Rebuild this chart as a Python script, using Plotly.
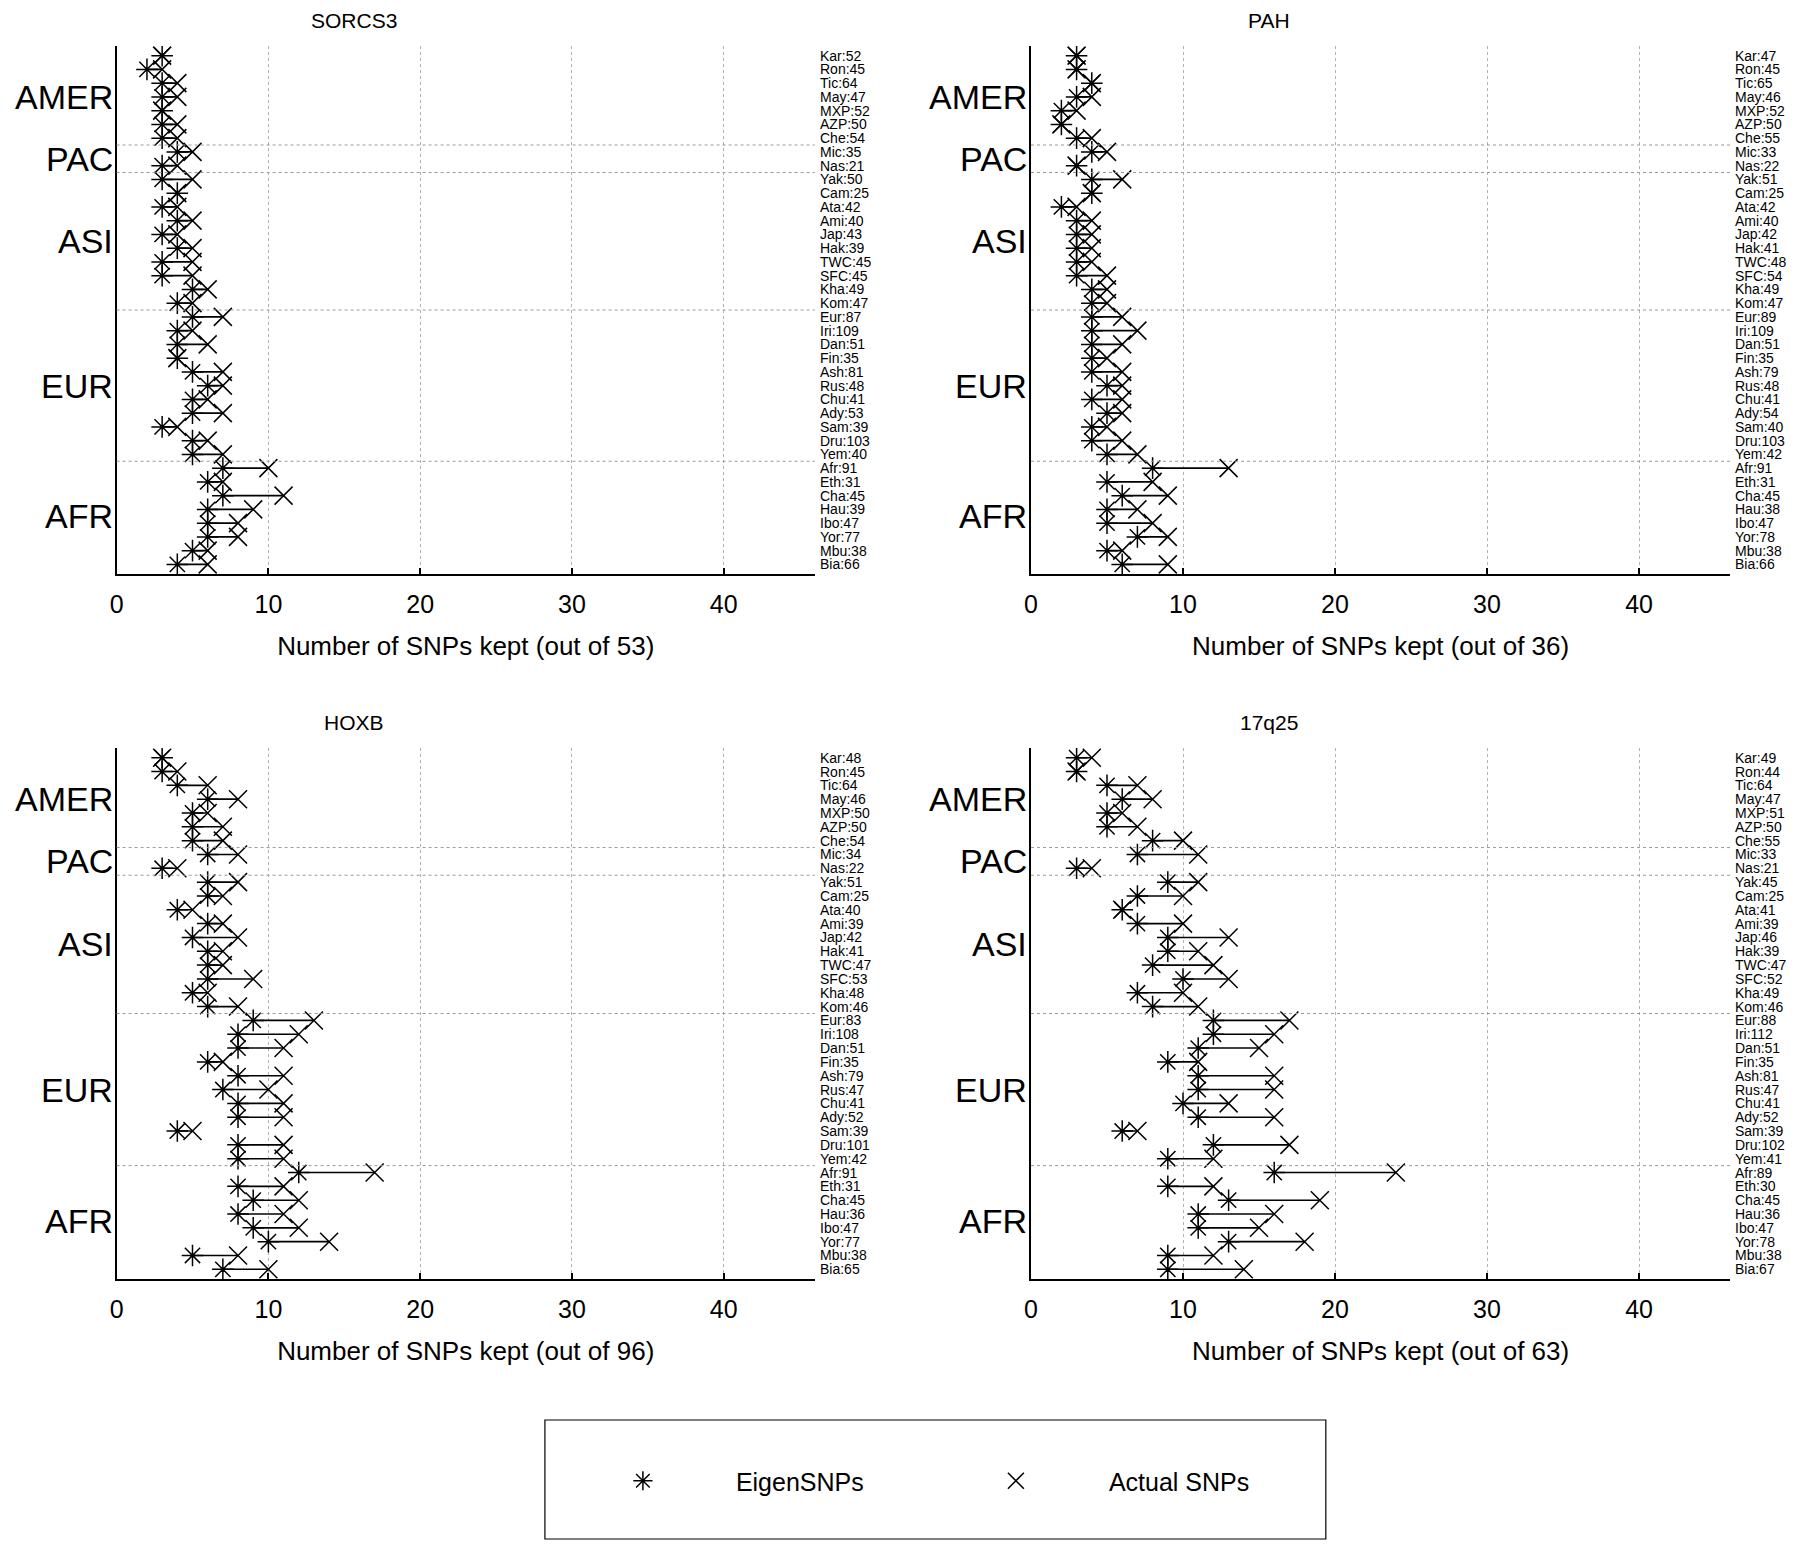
import plotly.graph_objects as go

# populations top to bottom, as listed on the right of every panel
populations = ["Kar", "Ron", "Tic", "May", "MXP", "AZP", "Che", "Mic", "Nas", "Yak",
               "Cam", "Ata", "Ami", "Jap", "Hak", "TWC", "SFC", "Kha", "Kom", "Eur",
               "Iri", "Dan", "Fin", "Ash", "Rus", "Chu", "Ady", "Sam", "Dru", "Yem",
               "Afr", "Eth", "Cha", "Hau", "Ibo", "Yor", "Mbu", "Bia"]
groups = ["AMER", "PAC", "ASI", "EUR", "AFR"]
group_sizes = [7, 2, 10, 11, 8]

x_ticks = [0, 10, 20, 30, 40]

# SORCS3 (53 SNPs)
sorcs3_eigen = [3, 2, 3, 3, 3, 3, 3, 4, 3, 3, 4, 3, 4, 3, 4, 3, 3, 5, 4, 5,
                4, 4, 4, 5, 6, 5, 5, 3, 5, 5, 7, 6, 7, 6, 6, 6, 5, 4]
sorcs3_actual = [3, 3, 4, 4, 3, 4, 4, 5, 4, 5, 4, 4, 5, 4, 5, 5, 5, 6, 5, 7,
                 5, 6, 4, 7, 7, 6, 7, 4, 6, 7, 10, 7, 11, 9, 8, 8, 6, 6]
sorcs3_n = [52, 45, 64, 47, 52, 50, 54, 35, 21, 50, 25, 42, 40, 43, 39, 45, 45, 49, 47, 87,
            109, 51, 35, 81, 48, 41, 53, 39, 103, 40, 91, 31, 45, 39, 47, 77, 38, 66]

# PAH (36 SNPs)
pah_eigen = [3, 3, 4, 3, 2, 2, 3, 4, 3, 4, 4, 2, 3, 3, 3, 3, 3, 4, 4, 4,
             4, 4, 4, 4, 5, 4, 5, 4, 4, 5, 8, 5, 6, 5, 5, 7, 5, 6]
pah_actual = [3, 3, 4, 4, 3, 2, 4, 5, 3, 6, 4, 3, 4, 4, 4, 4, 5, 5, 5, 6,
              7, 6, 5, 6, 6, 6, 6, 5, 6, 7, 13, 8, 9, 7, 8, 9, 6, 9]
pah_n = [47, 45, 65, 46, 52, 50, 55, 33, 22, 51, 25, 42, 40, 42, 41, 48, 54, 49, 47, 89,
         109, 51, 35, 79, 48, 41, 54, 40, 103, 42, 91, 31, 45, 38, 47, 78, 38, 66]

# HOXB (96 SNPs)
hoxb_eigen = [3, 3, 4, 6, 5, 5, 5, 6, 3, 6, 6, 4, 6, 5, 6, 6, 6, 5, 6, 9,
              8, 8, 6, 8, 7, 8, 8, 4, 8, 8, 12, 8, 9, 8, 9, 10, 5, 7]
hoxb_actual = [3, 4, 6, 8, 6, 7, 7, 8, 4, 8, 7, 5, 7, 8, 7, 7, 9, 6, 8, 13,
               12, 11, 7, 11, 10, 11, 11, 5, 11, 11, 17, 11, 12, 11, 12, 14, 8, 10]
hoxb_n = [48, 45, 64, 46, 50, 50, 54, 34, 22, 51, 25, 40, 39, 42, 41, 47, 53, 48, 46, 83,
          108, 51, 35, 79, 47, 41, 52, 39, 101, 42, 91, 31, 45, 36, 47, 77, 38, 65]

# 17q25 (63 SNPs)
q25_eigen = [3, 3, 5, 6, 5, 5, 8, 7, 3, 9, 7, 6, 7, 9, 9, 8, 10, 7, 8, 12,
             12, 11, 9, 11, 11, 10, 11, 6, 12, 9, 16, 9, 13, 11, 11, 13, 9, 9]
q25_actual = [4, 3, 7, 8, 6, 7, 10, 11, 4, 11, 10, 6, 10, 13, 11, 12, 13, 10, 11, 17,
              16, 15, 11, 16, 16, 13, 16, 7, 17, 12, 24, 12, 19, 16, 15, 18, 12, 14]
q25_n = [49, 44, 64, 47, 51, 50, 55, 33, 21, 45, 25, 41, 39, 46, 39, 47, 52, 49, 46, 88,
         112, 51, 35, 81, 47, 41, 52, 39, 102, 41, 89, 30, 45, 36, 47, 78, 38, 67]

panels = [
    ("SORCS3", 53, sorcs3_eigen, sorcs3_actual, sorcs3_n),
    ("PAH", 36, pah_eigen, pah_actual, pah_n),
    ("HOXB", 96, hoxb_eigen, hoxb_actual, hoxb_n),
    ("17q25", 63, q25_eigen, q25_actual, q25_n),
]

# page body keeps its 8px margin, so the figure is a bit smaller than the window
W, H, PAD = 1784, 1532, 8


def px_x(v):
    return (v - PAD) / W


def px_y(v):
    return 1 - (v - PAD) / H


x_domains = [[px_x(110), px_x(811)], [px_x(1028), px_x(1730)]]
y_domains = [[px_y(574), px_y(46)], [px_y(1279), px_y(748)]]

rows = list(range(len(populations)))
fig = go.Figure()
annotations = []
shapes = []

for i, (gene, total, eigen, actual, counts) in enumerate(panels):
    k = "" if i == 0 else str(i + 1)
    xa, ya = "x" + k, "y" + k

    # connecting lines eigen -> actual
    lx, ly = [], []
    for r, e, a in zip(rows, eigen, actual):
        lx += [e, a, None]
        ly += [r, r, None]
    fig.add_trace(go.Scatter(x=lx, y=ly, mode="lines", line=dict(color="black", width=1.6),
                             xaxis=xa, yaxis=ya, showlegend=False, hoverinfo="skip"))
    fig.add_trace(go.Scatter(x=eigen, y=rows, mode="markers", name="EigenSNPs",
                             marker=dict(symbol="asterisk-open", size=18, color="black",
                                         line=dict(color="black", width=1.5)),
                             xaxis=xa, yaxis=ya, showlegend=(i == 0)))
    fig.add_trace(go.Scatter(x=actual, y=rows, mode="markers", name="Actual SNPs",
                             marker=dict(symbol="x-thin-open", size=18, color="black",
                                         line=dict(color="black", width=1.5)),
                             xaxis=xa, yaxis=ya, showlegend=(i == 0)))

    fig.layout["xaxis" + k] = dict(
        domain=x_domains[i % 2], anchor=ya, range=[0, 46],
        tickvals=x_ticks, ticks="inside", ticklen=6, tickwidth=1.5, tickcolor="black",
        tickfont=dict(size=25), ticklabelstandoff=7,
        showline=True, linecolor="black", linewidth=1.5,
        showgrid=True, gridcolor="#b0b0b0", griddash="dot", gridwidth=1, zeroline=False,
        title=dict(text="Number of SNPs kept (out of %d)" % total, font=dict(size=26), standoff=20),
    )
    fig.layout["yaxis" + k] = dict(
        domain=y_domains[i // 2], anchor=xa, range=[37.7, -0.7],
        showline=True, linecolor="black", linewidth=1.5, showticklabels=False,
        ticks="", showgrid=False, zeroline=False,
    )

    # panel title (sits left of the axes centre, as in the original)
    annotations.append(dict(text=gene, xref=xa + " domain", yref=ya + " domain", x=0.34, y=1,
                            xanchor="center", yanchor="bottom", yshift=12,
                            showarrow=False, font=dict(size=21)))

    # population labels on the right
    for r, p, n in zip(rows, populations, counts):
        annotations.append(dict(text="%s:%d" % (p, n), xref=xa + " domain", yref=ya,
                                x=1, y=r, xanchor="left", yanchor="middle", xshift=3,
                                showarrow=False, font=dict(size=14)))

    # region labels and dividers
    start = 0
    for g, size in zip(groups, group_sizes):
        center = start + (size - 1) / 2
        annotations.append(dict(text=g, xref=xa + " domain", yref=ya, x=0, y=center,
                                xanchor="right", yanchor="middle", xshift=-2,
                                showarrow=False, font=dict(size=34)))
        start += size
        if start < len(populations):
            shapes.append(dict(type="line", xref=xa + " domain", yref=ya, x0=0, x1=1,
                               y0=start - 0.5, y1=start - 0.5,
                               line=dict(color="#999999", width=1, dash="dot")))

# legend box
shapes.append(dict(type="rect", xref="paper", yref="paper", x0=px_x(540), x1=px_x(1324),
                   y0=px_y(1539), y1=px_y(1420), line=dict(color="black", width=1.2)))

fig.update_layout(
    width=W, height=H,
    margin=dict(l=0, r=0, t=0, b=0),
    paper_bgcolor="white", plot_bgcolor="white",
    font=dict(family="Liberation Sans, Arial, sans-serif", color="black"),
    annotations=annotations, shapes=shapes,
    legend=dict(orientation="h", x=px_x(545), xanchor="left", y=px_y(1481), yanchor="middle",
                font=dict(size=25), itemwidth=176, entrywidth=182, entrywidthmode="pixels",
                bgcolor="rgba(0,0,0,0)", borderwidth=0),
)

fig.write_html("out.html")
